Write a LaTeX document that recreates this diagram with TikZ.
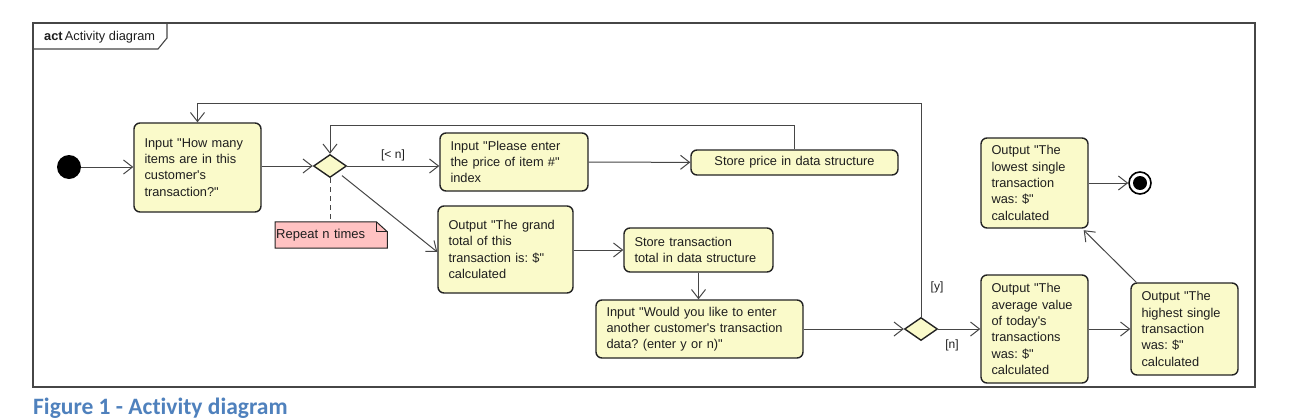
\documentclass[tikz,border=0pt]{standalone}
\usepackage{fontspec}
\setmainfont{Liberation Sans}[Ligatures=TeXOff]
\newfontfamily\capfont{Carlito}[Ligatures={NoCommon,TeXOff}]
\usetikzlibrary{shapes.geometric,arrows.meta,calc}
\pgfdeclarelayer{background}
\pgfsetlayers{background,main}
\definecolor{actfill}{RGB}{250,250,202}
\definecolor{actline}{RGB}{35,35,35}
\definecolor{arrline}{RGB}{70,70,70}
\definecolor{notefill}{RGB}{255,194,194}
\definecolor{capblue}{RGB}{79,129,189}
\definecolor{txt}{RGB}{30,30,30}
\definecolor{framec}{RGB}{70,70,70}
\frenchspacing
\begin{document}
\begin{tikzpicture}[x=1pt,y=-1pt,
  act/.style={draw=actline, fill=actfill, line width=1.4pt, rounded corners=6pt,
    inner xsep=10.5pt, inner ysep=0pt, align=left, text=txt,
    font=\fontsize{12.8}{16.3}\selectfont},
  dec/.style={shape=diamond, draw=actline, fill=actfill, line width=1.4pt,
    minimum width=33pt, minimum height=23pt, inner sep=0pt, aspect=1.43},
  arr/.style={draw=arrline, line width=1pt,
    -{Straight Barb[length=9pt,width=14pt,line width=1pt]}},
  lbl/.style={inner sep=0pt, text=txt, font=\fontsize{12}{14}\selectfont},
  framestyle/.style={draw=framec, line width=1.1pt}
]
\useasboundingbox (0,0) rectangle (1292,418);
\begin{pgfonlayer}{background}
\fill[white] (0,0) rectangle (1292,418);
\end{pgfonlayer}

% frame and title tab
\draw[framestyle] (33,23) rectangle (1255,387);
\draw[framestyle] (33,23) -- (167,23) -- (167,38) -- (158,49) -- (33,49);
\node[anchor=west, inner sep=0pt, text=txt, font=\fontsize{12.8}{15}\selectfont] (title) at (44,37) {\textbf{act}\,Activity diagram};

% nodes
\node[circle, fill=black, minimum size=24pt, inner sep=0pt] (init) at (69,167) {};
\node[act, text width=106pt, minimum height=89pt] (b1) at (197.5,167.5)
  {Input "How many\\items are in this\\customer's\\transaction?"};
\node[dec] (d1) at (330,166) {};
\node[act, text width=127pt, minimum height=58pt] (b2) at (514,162)
  {Input "Please enter\\the price of item \#"\\index};
\node[act, text width=186pt, minimum height=25pt, align=center] (b3) at (794.5,162.5)
  {Store price in data structure};
\node[act, text width=114pt, minimum height=87pt] (b4) at (505.5,249.5)
  {Output "The grand\\total of this\\transaction is: \$"\\calculated};
\node[act, text width=128pt, minimum height=44pt] (b5) at (698.5,250)
  {Store transaction\\total in data structure};
\node[act, text width=186pt, minimum height=58pt] (b6) at (699.5,329)
  {Input "Would you like to enter\\another customer's transaction\\data? (enter y or n)"};
\node[dec] (d2) at (921,329) {};
\node[act, text width=86pt, minimum height=108pt] (b7) at (1034.5,329)
  {Output "The\\average value\\of today's\\transactions\\was: \$"\\calculated};
\node[act, text width=86pt, minimum height=92pt] (b8) at (1184.5,329)
  {Output "The\\highest single\\transaction\\was: \$"\\calculated};
\node[act, text width=86pt, minimum height=90pt] (b9) at (1034.5,183)
  {Output "The\\lowest single\\transaction\\was: \$"\\calculated};
\node[circle, draw=black, line width=1.6pt, fill=white, minimum size=22pt, inner sep=0pt] (fin) at (1140,183) {};
\node[circle, fill=black, minimum size=14pt, inner sep=0pt] (finin) at (fin) {};

% note
\node[anchor=west, inner xsep=1pt, inner ysep=0pt, minimum width=112pt, minimum height=26pt,
  align=left, text=txt, font=\fontsize{13}{15}\selectfont, text width=110pt] (note) at (275,235) {Repeat n times};
\begin{pgfonlayer}{background}
\fill[notefill] (note.north west) -- ($(note.north east)+(-11,0)$) -- ($(note.north east)+(0,10)$)
  -- (note.south east) -- (note.south west) -- cycle;
\end{pgfonlayer}
\draw[draw=actline, line width=1pt] (note.north west) -- ($(note.north east)+(-11,0)$) -- ($(note.north east)+(0,10)$)
  -- (note.south east) -- (note.south west) -- cycle;
\draw[draw=actline, line width=1pt] ($(note.north east)+(-11,0)$) -- ($(note.north east)+(-11,10)$) -- ($(note.north east)+(0,10)$);
\draw[draw=arrline, line width=1pt, dash pattern=on 5pt off 4pt] (d1.south) -- (d1.south |- note.north);

% connectors
\draw[arr] (init) -- (init -| b1.west);
\draw[arr] (b1.east |- d1) -- (d1.west);
\draw[arr] (d1.east) -- (d1.east -| b2.west);
\node[lbl] (ltn) at (393,155) {[< n]};
\draw[arr] (b2) -- (b3);
\draw[arr] (b3.north) -- ++(0,-24) -| (d1.north);
\draw[arr, shorten <=5pt] (d1) -- ($(b4.west)+(0,2.5)$);
\draw[arr] (b4.east |- b5) -- (b5.west);
\draw[arr] (b5.south) -- (b5.south |- b6.north);
\draw[arr] (b6.east |- d2) -- (d2.west);
\draw[arr] (d2.north) -- ++(0,-213) -| (b1.north);
\node[lbl] (ly) at (937,287) {[y]};
\draw[arr] (d2.east) -- (d2.east -| b7.west);
\node[lbl] (ln) at (952,345) {[n]};
\draw[arr] (b7.east |- b8) -- (b8.west);
\draw[arr] ($(b8.north west)+(6,0)$) -- ($(b9.south east)+(-5,1.5)$);
\draw[arr] (b9.east |- fin) -- (fin.west);

% caption
\node[anchor=base west, inner sep=0pt, text=capblue, font=\capfont\bfseries\fontsize{23.5}{27}\selectfont] (cap) at (33,414) {Figure 1 - Activity diagram};
\end{tikzpicture}
\end{document}
